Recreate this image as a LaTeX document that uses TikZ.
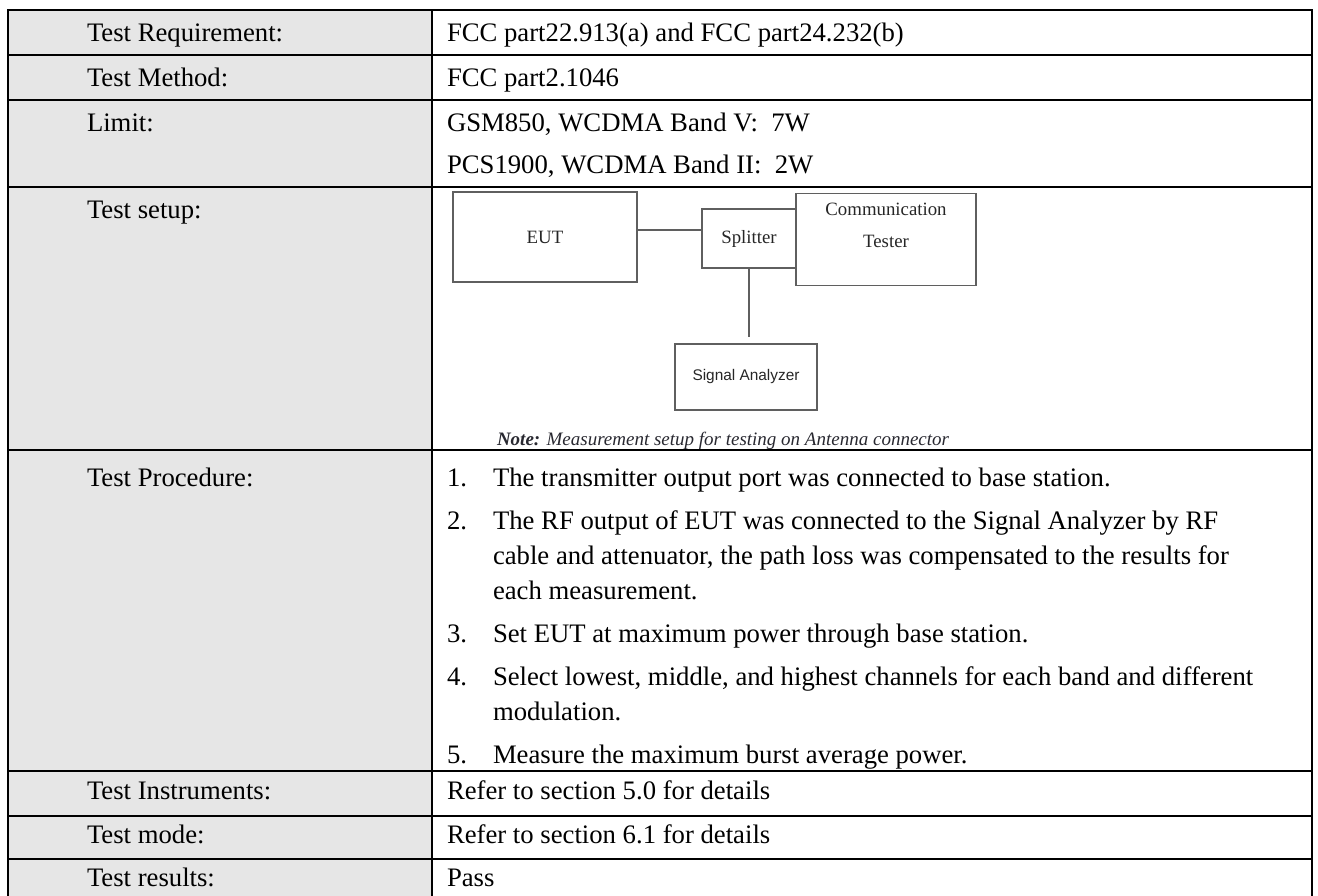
\documentclass[tikz,border=0pt]{standalone}
\usepackage{fontspec}
\setmainfont{Liberation Serif}
\setsansfont{Liberation Sans}
\usetikzlibrary{positioning}
\definecolor{labelgray}{RGB}{230,230,230}
\definecolor{boxline}{RGB}{95,95,95}
\definecolor{notetext}{RGB}{40,40,48}
\begin{document}
\begin{tikzpicture}[x=1pt,y=-1pt,
    every node/.style={inner sep=0pt,outer sep=0pt},
    cell/.style={anchor=base west,font=\fontsize{26.7}{32}\selectfont},
    unit/.style={draw=boxline,line width=1.3pt,font=\fontsize{18.8}{22}\selectfont,text=black!85},
    wire/.style={draw=boxline,line width=1.3pt}]
    \useasboundingbox (0,0) rectangle (1318,896);
    \fill[labelgray] (8,10) rectangle (432,896);
    \foreach \y in {10,55,100,187,450,771,816,859}
        \draw[line width=2.2pt,line cap=rect] (8,\y) -- (1312,\y);
    \foreach \x in {8,432,1312}
        \draw[line width=2.2pt] (\x,10) -- (\x,896);
    % left column
    \foreach \y/\t [count=\i] in {42/Test Requirement:,87/Test Method:,132/Limit:,219/Test setup:,486/Test Procedure:,799/Test Instruments:,843/Test mode:,886/Test results:}
        \node (lab\i) at (87,\y) [cell] {\t};
    % right column
    \foreach \y/\t [count=\i] in {42/FCC part22.913(a) and FCC part24.232(b),87/FCC part2.1046,132/{GSM850, WCDMA Band V:\ \ 7W},174/{PCS1900, WCDMA Band II:\ \ 2W},799/Refer to section 5.0 for details,843/Refer to section 6.1 for details,886/Pass}
        \node (val\i) at (447,\y) [cell] {\t};
    % procedure
    \foreach \n/\y in {1/486,2/529,3/642,4/685,5/763}
        \node (num\n) at (447,\y) [cell] {\n.};
    \foreach \y/\t [count=\i] in {486/The transmitter output port was connected to base station.,529/The RF output of EUT was connected to the Signal Analyzer by RF,564/{cable and attenuator, the path loss was compensated to the results for},599/each measurement.,642/Set EUT at maximum power through base station.,685/{Select lowest, middle, and highest channels for each band and different},720/modulation.,763/Measure the maximum burst average power.}
        \node (step\i) at (493,\y) [cell] {\t};
    % setup sketch
    \node (eut) at (545,237) [unit,minimum width=184pt,minimum height=90pt] {EUT};
    \node (spl) at (749,238.5) [unit,minimum width=94pt,minimum height=59pt] {Splitter};
    \node (ct) at (886,239.5) [unit,minimum width=180pt,minimum height=92pt] {};
    \node (ctname) [below=10pt of ct.north,align=center,font=\fontsize{18.8}{32}\selectfont,text=black!85] {Communication\\Tester};
    \node (sa) at (746,377) [unit,font=\sffamily\fontsize{15.4}{18}\selectfont,minimum width=142pt,minimum height=66pt] {Signal Analyzer};
    \draw[wire] ([yshift=7pt]eut.east) -- ([yshift=7pt]eut.east -| spl.west);
    \draw[wire,shorten >=7pt] (spl.south) -- (spl.south |- sa.north);
    \node (note) at (497,445) [anchor=base west,font=\fontsize{19}{22}\selectfont\itshape,text=notetext] {\textbf{Note:} Measurement setup for testing on Antenna connector};
\end{tikzpicture}
\end{document}
